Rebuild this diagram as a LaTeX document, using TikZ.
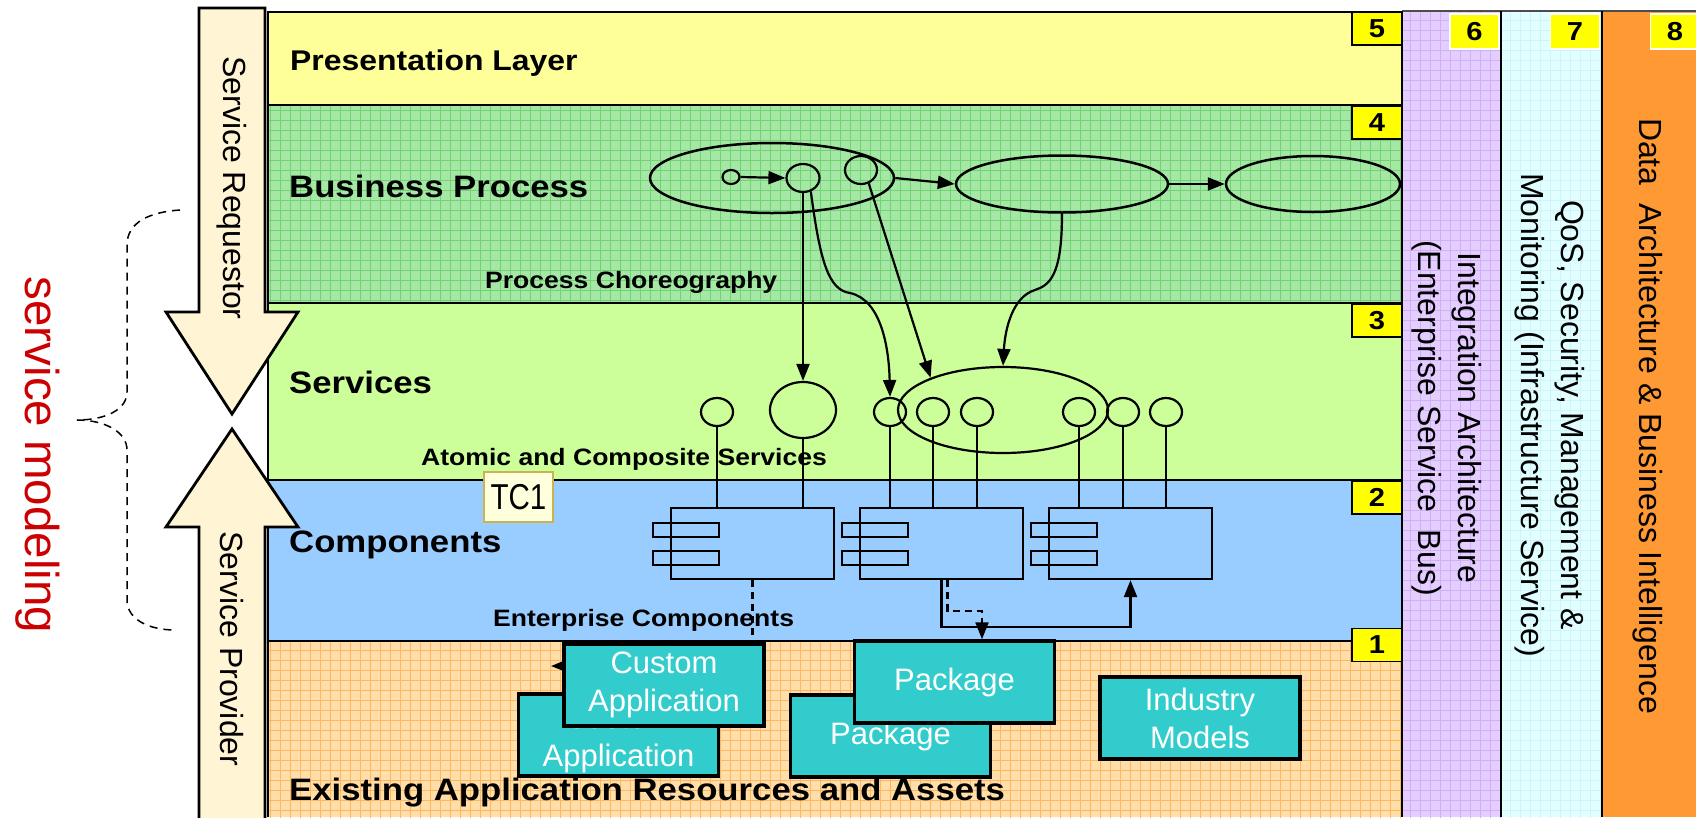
\documentclass[tikz,border=0pt]{standalone}
\usepackage{fontspec}
\setmainfont{Liberation Sans}
\newfontfamily\wideSans[FakeStretch=1.12]{Liberation Sans}
\usetikzlibrary{arrows.meta,shapes.geometric}
\definecolor{presY}{RGB}{255,255,153}
\definecolor{bpG}{RGB}{165,232,165}
\definecolor{bpGrid}{RGB}{115,210,115}
\definecolor{svcG}{RGB}{204,255,153}
\definecolor{compB}{RGB}{153,204,255}
\definecolor{exO}{RGB}{255,222,170}
\definecolor{exGrid}{RGB}{255,183,95}
\definecolor{intP}{RGB}{228,205,255}
\definecolor{intGrid}{RGB}{208,175,245}
\definecolor{qosC}{RGB}{225,255,255}
\definecolor{qosGrid}{RGB}{208,242,250}
\definecolor{dataO}{RGB}{255,153,51}
\definecolor{tealBox}{RGB}{51,204,204}
\definecolor{cream}{RGB}{255,245,212}
\definecolor{tcFill}{RGB}{255,255,221}
\definecolor{tcDraw}{RGB}{200,180,80}
\definecolor{modRed}{RGB}{204,0,0}
\definecolor{numY}{RGB}{255,255,0}
\newcommand\fLayer{\wideSans\bfseries\fontsize{31}{36}\selectfont}
\newcommand\fPres{\wideSans\bfseries\fontsize{28.5}{34}\selectfont}
\newcommand\fSub{\wideSans\bfseries\fontsize{23.7}{28}\selectfont}
\newcommand\fRot{\fontsize{32}{40}\selectfont}
\newcommand\fBox{\fontsize{31}{38}\selectfont}
\newcommand\fNum{\wideSans\bfseries\fontsize{26}{30}\selectfont}
\newcommand\fMod{\fontsize{47.5}{56}\selectfont}
\newcommand\fTC{\fontsize{36}{40}\selectfont}
\tikzset{
  lbl/.style={anchor=base west, inner sep=0pt, font=\fLayer},
  sublbl/.style={anchor=base west, inner sep=0pt, font=\fSub},
  rottxt/.style={rotate=-90, align=center, font=\fRot, inner sep=0pt},
  numbox/.style={draw=black, line width=1.5pt, fill=numY, minimum width=50pt, minimum height=33pt, inner sep=0pt, font=\fNum},
  numboxw/.style={numbox, draw=white, minimum width=49pt, minimum height=35pt},
  bpell/.style={ellipse, draw, line width=2.5pt, inner sep=0pt},
  circ/.style={ellipse, draw, line width=2.2pt, inner sep=0pt, minimum width=32pt, minimum height=28pt},
  conn/.style={line width=2.2pt, -{Triangle[length=17pt,width=13pt]}},
  plain/.style={line width=2.2pt},
  dsh/.style={dash pattern=on 7pt off 5pt},
  comp/.style={draw, line width=2.2pt, rectangle, minimum width=163pt, minimum height=71pt, inner sep=0pt},
  appbox/.style={draw=black, line width=3.5pt, fill=tealBox, text=white, minimum width=200pt, minimum height=82pt, align=center, font=\fBox, inner sep=0pt},
  apptxt/.style={text=white, align=center, font=\fBox, inner sep=0pt},
  bigarrow/.style={fill=cream, draw=black, line width=2.8pt, line join=miter},
  gridl/.style={line width=0.9pt, step=10pt}
}
\begin{document}
\begin{tikzpicture}[x=1pt,y=-1pt]
\useasboundingbox (0,0) rectangle (1696,817);
\fill[white] (0,0) rectangle (1696,817);

% ---- right columns
\fill[intP] (1402,11) rectangle (1501,817);
\begin{scope}\clip (1402,11) rectangle (1501,817);
\draw[intGrid, gridl] (1400,0) grid (1510,820);\end{scope}
\fill[qosC] (1501,11) rectangle (1602,817);
\begin{scope}\clip (1501,11) rectangle (1602,817);
\draw[qosGrid, gridl] (1500,0) grid (1610,820);\end{scope}
\fill[dataO] (1602,11) rectangle (1696,817);
\draw[gray!60!black, line width=1.5pt] (1402,11) -- (1696,11);
\draw[line width=2.2pt] (1501,11) -- (1501,817);
\draw[line width=2.2pt] (1602,11) -- (1602,817);

% ---- layers
\fill[presY] (268,12) rectangle (1402,105);
\fill[bpG] (268,105) rectangle (1402,303);
\begin{scope}\clip (268,105) rectangle (1402,303);
\draw[bpGrid, gridl] (260,100) grid (1410,310);\end{scope}
\fill[svcG] (268,303) rectangle (1402,480);
\fill[compB] (268,480) rectangle (1402,641);
\fill[exO] (268,641) rectangle (1402,817);
\begin{scope}\clip (268,641) rectangle (1402,817);
\draw[exGrid, gridl] (260,640) grid (1410,820);\end{scope}
\draw[line width=2.5pt] (268,817) -- (268,12) -- (1402,12) -- (1402,817);
\foreach \yy in {105,303,480,641} \draw[line width=2.5pt] (268,\yy) -- (1402,\yy);

% ---- layer labels
\node[lbl, font=\fPres] (tPres) at (290,70) {Presentation Layer};
\node[lbl] (tBP) at (289,197) {Business Process};
\node[lbl] (tSvc) at (289,393) {Services};
\node[lbl] (tComp) at (289,552) {Components};
\node[lbl] (tExist) at (289,800) {Existing Application Resources and Assets};
\node[sublbl] (tChor) at (485,288) {Process Choreography};
\node[sublbl] (tAtom) at (421,465) {Atomic and Composite Services};
\node[sublbl] (tEnt) at (493,626) {Enterprise Components};

% ---- column texts
\node[rottxt] (tInt) at (1447,418) {Integration Architecture\\(Enterprise Service\ \ Bus)};
\node[rottxt] (tQoS) at (1550,415) {QoS, Security, Management \&\\Monitoring (Infrastructure Service)};
\node[rottxt] (tData) at (1648,416) {Data\ \ Architecture \& Business Intelligence};

% ---- business process
\node[bpell, minimum width=244pt, minimum height=70pt] (e1) at (772,178) {};
\node[bpell, minimum width=212pt, minimum height=57pt] (e2) at (1062,184) {};
\node[bpell, minimum width=174pt, minimum height=56pt] (e3) at (1313,184) {};
\node[circ, minimum width=17pt, minimum height=14pt] (s0) at (731,177) {};
\node[circ, minimum width=33pt, minimum height=28pt] (c2) at (803,178) {};
\node[circ, minimum width=32pt, minimum height=28pt] (c3) at (861,170) {};
\draw[conn] (s0.east) -- (c2.west);
\draw[conn] (e1.east) -- (e2.west);
\draw[conn] (e2.east) -- (e3.west);

% ---- services
\node[circ] (cA) at (717,412) {};
\node[circ, minimum width=66pt, minimum height=56pt] (cB) at (803,410) {};
\node[circ] (cC) at (890,412) {};
\node[bpell, line width=2.2pt, minimum width=210pt, minimum height=86pt] (ce) at (1003,410) {};
\node[circ] (cD) at (933,412) {};
\node[circ] (cE) at (977,412) {};
\node[circ] (cF) at (1079,412) {};
\node[circ] (cG) at (1123,412) {};
\node[circ] (cH) at (1166,412) {};

\draw[conn] (c2.south) -- (cB.north);
\draw[conn] (c2.-60) .. controls (820,260) and (828,290) .. (850,293) .. controls (882,300) and (889,350) .. (cC.north);
\draw[conn] (c3.-60) -- (ce.156);
\draw[conn] (e2.south) .. controls (1062,275) and (1050,285) .. (1035,290) .. controls (1012,297) and (1005,330) .. (ce.north);

% ---- components
\node[comp] (b1) at (752.5,543.5) {};
\node[comp] (b2) at (941.5,543.5) {};
\node[comp] (b3) at (1130.5,543.5) {};
\foreach \L in {671,860,1049}{
  \draw[plain] (\L-18,523) rectangle (\L+48,537);
  \draw[plain] (\L-18,551) rectangle (\L+48,565);
}
\foreach \c/\b in {cA/b1,cB/b1,cC/b2,cD/b2,cE/b2,cF/b3,cG/b3,cH/b3}
  \draw[plain] (\c.south) -- (\c.south |- \b.north);

\coordinate (caTip) at (551,666);
\coordinate (jn) at (941.5,627);
\coordinate (dk) at (982,611);
\draw[conn, dsh] (b1.south) |- (caTip);
\draw[conn] (b2.south) -- (jn) -| (b3.south);

% ---- application boxes
\node[appbox] (caBack) at (618.5,735) {};
\node[apptxt] (caBackTxt) at (618.5,740) {Custom\\Application};
\node[appbox] (caFront) at (664,685) {Custom\\Application};
\node[appbox] (pkBack) at (890.5,736) {Package};
\node[appbox] (pkFront) at (954.5,682) {Package};
\node[appbox] (indM) at (1200,718) {Industry\\Models};
\draw[conn, dsh] ([xshift=6pt]b2.south) |- (dk) -- (dk |- pkFront.north);

% ---- number boxes
\node[numbox] (n5) at (1377,28.5) {5};
\node[numbox] (n4) at (1377,122.5) {4};
\node[numbox] (n3) at (1377,320.5) {3};
\node[numbox] (n2) at (1377,497.5) {2};
\node[numbox] (n1) at (1377,645) {1};
\node[numboxw] (n6) at (1474.5,31.5) {6};
\node[numboxw] (n7) at (1575,31.5) {7};
\node[numboxw] (n8) at (1675,31.5) {8};

% ---- TC1
\node[draw=tcDraw, fill=tcFill, line width=1.5pt, minimum width=69pt, minimum height=50pt, inner sep=0pt] (tc1) at (518.5,497) {\fTC\scalebox{0.82}[1]{TC1}};

% ---- requestor / provider arrows
\draw[bigarrow] (199,8) -- (265,8) -- (265,312) -- (298,312) -- (232,414) -- (166,312) -- (199,312) -- cycle;
\draw[bigarrow] (232,429) -- (298,527) -- (265,527) -- (265,830) -- (199,830) -- (199,527) -- (166,527) -- cycle;
\node[rottxt] (tReq) at (232,188) {Service Requestor};
\node[rottxt] (tProv) at (232,649) {Service Provider};

% ---- brace and label
\draw[line width=1.5pt, dash pattern=on 8pt off 6pt] (180,210) .. controls (150,212) and (127,222) .. (127,245) -- (127,392) .. controls (127,410) and (105,420) .. (77,420) .. controls (105,420) and (127,432) .. (127,450) -- (127,600) .. controls (127,620) and (150,630) .. (175,630);
\node[rotate=-90, font=\fMod, text=modRed, inner sep=0pt] (tMod) at (38,455) {service modeling};
\end{tikzpicture}
\end{document}
